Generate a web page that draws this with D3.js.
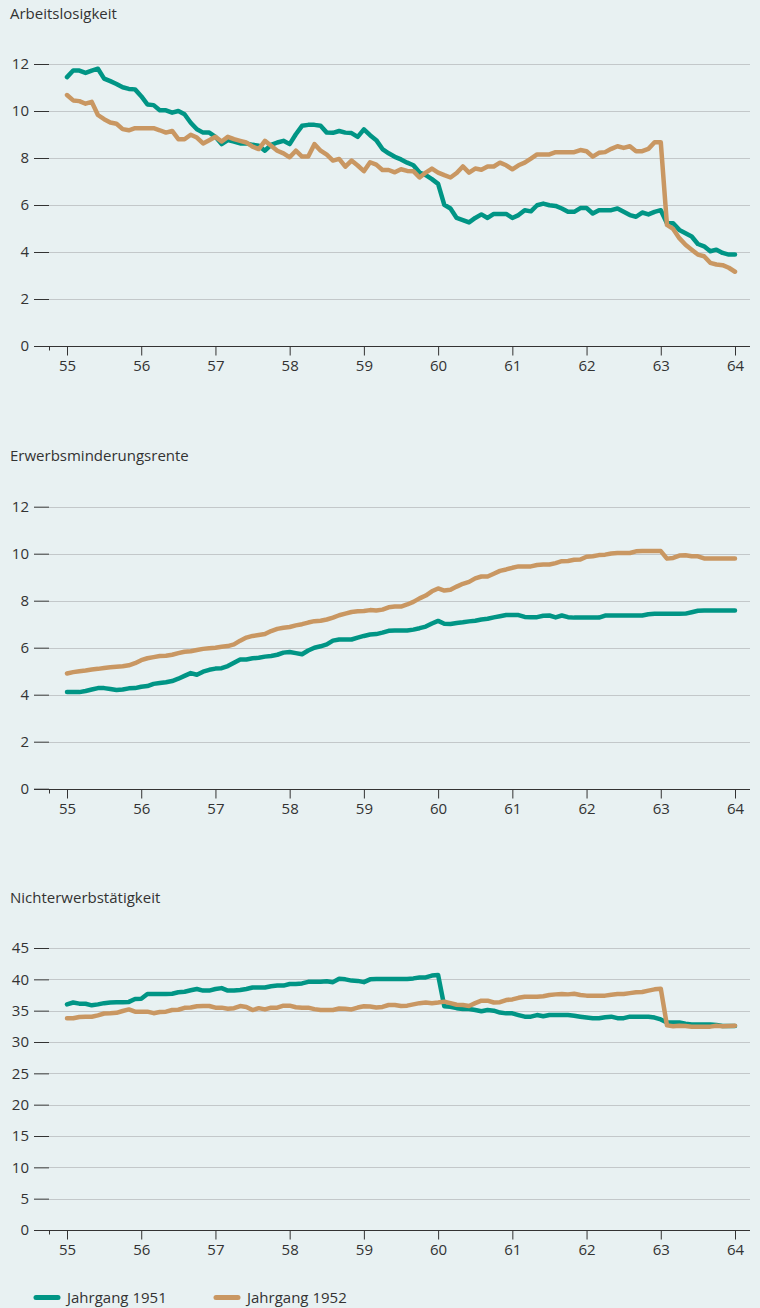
<!DOCTYPE html>
<html>
<head>
<meta charset="utf-8">
<script src="https://cdn.jsdelivr.net/npm/d3@7"></script>
<style>
body { margin: 0; background: #e8f1f2; }
svg text { font-family: "Open Sans", "Noto Sans", sans-serif; fill: #333; }
</style>
</head>
<body>
<svg width="760" height="1308"></svg>
<script>
// Alter in Jahren, monatliche Werte von 55 bis 64
var ageTicks = [55, 56, 57, 58, 59, 60, 61, 62, 63, 64]
var startAge = 55
var seriesNames = ["Jahrgang 1951", "Jahrgang 1952"]
var panelTitles = ["Arbeitslosigkeit", "Erwerbsminderungsrente", "Nichterwerbstätigkeit"]
var yTicksSmall = [0, 2, 4, 6, 8, 10, 12]
var yTicksLarge = [0, 5, 10, 15, 20, 25, 30, 35, 40, 45]

var arbeitslos1951 = [
    11.44, 11.72, 11.72, 11.62, 11.72, 11.8, 11.38, 11.27, 11.15, 11.01, 10.94, 10.92,
    10.63, 10.28, 10.25, 10.03, 10.03, 9.93, 10.0, 9.86, 9.5, 9.22, 9.08, 9.08,
    8.9, 8.59, 8.76, 8.7, 8.62, 8.62, 8.56, 8.52, 8.31, 8.56, 8.66, 8.73,
    8.59, 9.01, 9.37, 9.41, 9.41, 9.37, 9.08, 9.07, 9.15, 9.08, 9.06, 8.9,
    9.22, 8.97, 8.76, 8.38, 8.2, 8.05, 7.94, 7.8, 7.69, 7.38, 7.27, 7.1,
    6.9, 6.01, 5.85, 5.45, 5.36, 5.26, 5.45, 5.6, 5.45, 5.62, 5.62, 5.62,
    5.45, 5.57, 5.78, 5.73, 5.99, 6.06, 5.99, 5.96, 5.85, 5.71, 5.71, 5.87,
    5.87, 5.64, 5.78, 5.78, 5.78, 5.85, 5.71, 5.57, 5.5, 5.68, 5.6, 5.71,
    5.78, 5.22, 5.22, 4.94, 4.8, 4.66, 4.34, 4.24, 4.03, 4.1, 3.96, 3.89,
    3.89]
var arbeitslos1952 = [
    10.68, 10.45, 10.42, 10.31, 10.39, 9.83, 9.65, 9.51, 9.46, 9.23, 9.18, 9.27,
    9.27, 9.27, 9.27, 9.18, 9.08, 9.15, 8.8, 8.8, 8.99, 8.87, 8.62, 8.76,
    8.9, 8.7, 8.9, 8.8, 8.73, 8.66, 8.48, 8.38, 8.73, 8.52, 8.31, 8.2,
    8.03, 8.31, 8.06, 8.06, 8.59, 8.31, 8.14, 7.89, 7.96, 7.63, 7.89, 7.68,
    7.44, 7.82, 7.72, 7.49, 7.49, 7.39, 7.52, 7.45, 7.44, 7.17, 7.38, 7.55,
    7.38, 7.27, 7.17, 7.36, 7.64, 7.38, 7.55, 7.5, 7.64, 7.64, 7.8, 7.69,
    7.52, 7.69, 7.8, 7.97, 8.15, 8.15, 8.15, 8.25, 8.25, 8.25, 8.25, 8.34,
    8.29, 8.06, 8.22, 8.25, 8.39, 8.5, 8.43, 8.5, 8.29, 8.29, 8.39, 8.67,
    8.67, 5.15, 4.98, 4.59, 4.31, 4.1, 3.89, 3.82, 3.54, 3.47, 3.44, 3.33,
    3.16]

var emRente1951 = [
    4.11, 4.11, 4.11, 4.16, 4.22, 4.28, 4.28, 4.24, 4.2, 4.22, 4.27, 4.28,
    4.34, 4.37, 4.46, 4.5, 4.53, 4.58, 4.68, 4.8, 4.92, 4.85, 4.98, 5.06,
    5.11, 5.13, 5.22, 5.36, 5.5, 5.5, 5.55, 5.57, 5.62, 5.65, 5.7, 5.79,
    5.82, 5.77, 5.72, 5.88, 6.0, 6.06, 6.14, 6.3, 6.35, 6.35, 6.35, 6.43,
    6.5, 6.56, 6.58, 6.64, 6.72, 6.73, 6.73, 6.73, 6.77, 6.83, 6.9, 7.03,
    7.14, 7.02, 7.01, 7.05, 7.08, 7.12, 7.15, 7.2, 7.23, 7.29, 7.34, 7.39,
    7.39, 7.39, 7.31, 7.3, 7.3, 7.36, 7.37, 7.29, 7.37, 7.3, 7.28, 7.28,
    7.28, 7.28, 7.28, 7.37, 7.37, 7.37, 7.37, 7.37, 7.37, 7.37, 7.42, 7.44,
    7.44, 7.44, 7.44, 7.44, 7.45, 7.51, 7.57, 7.58, 7.58, 7.58, 7.58, 7.58,
    7.58]
var emRente1952 = [
    4.9, 4.96, 5.0, 5.03, 5.07, 5.1, 5.14, 5.17, 5.19, 5.21, 5.25, 5.34,
    5.47, 5.55, 5.6, 5.65, 5.66, 5.7, 5.77, 5.83, 5.85, 5.9, 5.95, 5.98,
    6.0, 6.04, 6.07, 6.14, 6.3, 6.43, 6.5, 6.54, 6.58, 6.71, 6.8, 6.85,
    6.88, 6.95, 7.0, 7.07, 7.13, 7.15, 7.2, 7.28, 7.38, 7.45, 7.52, 7.55,
    7.56, 7.6, 7.58, 7.62, 7.72, 7.75, 7.75, 7.84, 7.95, 8.1, 8.22, 8.4,
    8.52, 8.43, 8.47, 8.6, 8.72, 8.8, 8.95, 9.03, 9.03, 9.15, 9.27, 9.33,
    9.4, 9.46, 9.46, 9.46, 9.52, 9.54, 9.54, 9.6, 9.68, 9.69, 9.74, 9.75,
    9.87, 9.89, 9.94, 9.96, 10.01, 10.03, 10.03, 10.03, 10.1, 10.11, 10.11, 10.11,
    10.11, 9.79, 9.82, 9.92, 9.93, 9.89, 9.89, 9.8, 9.8, 9.8, 9.8, 9.8,
    9.8]

var nichterw1951 = [
    36.0, 36.3, 36.12, 36.1, 35.85, 36.0, 36.2, 36.32, 36.33, 36.33, 36.4, 36.86,
    36.9, 37.66, 37.66, 37.66, 37.66, 37.7, 37.93, 38.03, 38.25, 38.46, 38.2, 38.2,
    38.45, 38.6, 38.2, 38.2, 38.3, 38.46, 38.7, 38.7, 38.7, 38.9, 39.0, 39.0,
    39.25, 39.26, 39.35, 39.6, 39.6, 39.6, 39.7, 39.55, 40.1, 40.0, 39.8, 39.75,
    39.55, 40.0, 40.05, 40.05, 40.05, 40.05, 40.05, 40.05, 40.15, 40.3, 40.3, 40.6,
    40.7, 35.7, 35.62, 35.4, 35.27, 35.27, 35.1, 34.9, 35.1, 35.0, 34.7, 34.57,
    34.57, 34.3, 34.04, 34.04, 34.3, 34.1, 34.3, 34.3, 34.3, 34.3, 34.2, 34.04,
    33.9, 33.78, 33.78, 33.95, 34.04, 33.8, 33.8, 34.04, 34.04, 34.04, 34.04, 33.9,
    33.6, 33.1, 33.1, 33.1, 32.9, 32.8, 32.8, 32.8, 32.8, 32.7, 32.55, 32.55,
    32.55]
var nichterw1952 = [
    33.78, 33.78, 34.0, 34.04, 34.04, 34.25, 34.55, 34.57, 34.65, 34.95, 35.2, 34.84,
    34.84, 34.84, 34.6, 34.8, 34.84, 35.1, 35.15, 35.45, 35.5, 35.7, 35.74, 35.74,
    35.48, 35.48, 35.3, 35.4, 35.74, 35.6, 35.1, 35.4, 35.2, 35.48, 35.48, 35.8,
    35.8, 35.55, 35.48, 35.48, 35.25, 35.1, 35.1, 35.1, 35.35, 35.3, 35.2, 35.5,
    35.7, 35.65, 35.5, 35.6, 35.9, 35.9, 35.74, 35.8, 36.0, 36.2, 36.3, 36.2,
    36.3, 36.44, 36.2, 35.95, 35.9, 35.75, 36.2, 36.6, 36.6, 36.3, 36.35, 36.7,
    36.8, 37.05, 37.23, 37.23, 37.23, 37.3, 37.5, 37.6, 37.65, 37.6, 37.7, 37.5,
    37.4, 37.4, 37.4, 37.4, 37.55, 37.66, 37.66, 37.8, 37.93, 37.97, 38.2, 38.4,
    38.5, 32.65, 32.5, 32.6, 32.55, 32.45, 32.45, 32.45, 32.45, 32.6, 32.5, 32.55,
    32.6]

var color_1951 = "#009585"
var color_1952 = "#c99762"
var grid_color = "#c3c8ca"
var axis_color = "#333"

var svg = d3.select("svg")
svg.append("rect").attr("width", 760).attr("height", 1308).attr("fill", "#e8f1f2")

var x = d3.scaleLinear().domain([ageTicks[0], ageTicks[ageTicks.length - 1]]).range([67, 735])
var plot_left = 49
var plot_right = 750
var plot_height = 282

function panel(title, top, yTicks, s1951, s1952) {
    var bottom = top + plot_height
    var y = d3.scaleLinear().domain([0, yTicks[yTicks.length - 1]]).range([bottom, top])
    var g = svg.append("g")

    g.append("text")
        .attr("x", 10).attr("y", top - 45.5)
        .attr("font-size", "15px")
        .text(title)

    // gridlines
    g.selectAll(".grid")
        .data(yTicks.filter(function (d) { return d > 0 }))
        .enter().append("line")
        .attr("x1", plot_left).attr("x2", plot_right)
        .attr("y1", function (d) { return Math.round(y(d)) + 0.5 })
        .attr("y2", function (d) { return Math.round(y(d)) + 0.5 })
        .attr("stroke", grid_color).attr("stroke-width", 1.2)

    var yAxis = g.append("g")
        .attr("transform", "translate(" + plot_left + ",0)")
        .call(d3.axisLeft(y).tickValues(yTicks).tickSize(15).tickPadding(5))
    yAxis.select(".domain").remove()
    yAxis.selectAll("line").attr("stroke", axis_color)
    yAxis.selectAll("text").attr("font-size", "15px").attr("fill", "#333")
        .attr("font-family", "'Open Sans', 'Noto Sans', sans-serif")

    var base = Math.round(bottom) + 0.5
    g.append("line")
        .attr("x1", 34).attr("x2", plot_right)
        .attr("y1", base).attr("y2", base)
        .attr("stroke", axis_color).attr("stroke-width", 1)
    g.append("line")
        .attr("x1", plot_left + 0.5).attr("x2", plot_left + 0.5)
        .attr("y1", base).attr("y2", base + 4)
        .attr("stroke", axis_color)

    var xAxis = g.append("g")
        .attr("transform", "translate(0," + base + ")")
        .call(d3.axisBottom(x).tickValues(ageTicks).tickSize(9).tickPadding(5))
    xAxis.select(".domain").remove()
    xAxis.selectAll("line").attr("stroke", axis_color)
    xAxis.selectAll("text").attr("font-size", "15px").attr("fill", "#333")
        .attr("font-family", "'Open Sans', 'Noto Sans', sans-serif")

    var line = d3.line()
        .x(function (d, i) { return x(startAge + i / 12) })
        .y(function (d) { return y(d) })

    ;[[s1951, color_1951], [s1952, color_1952]].forEach(function (s) {
        g.append("path")
            .datum(s[0])
            .attr("d", line)
            .attr("fill", "none")
            .attr("stroke", s[1])
            .attr("stroke-width", 4.5)
            .attr("stroke-linejoin", "round")
            .attr("stroke-linecap", "round")
    })
}

panel(panelTitles[0], 64, yTicksSmall, arbeitslos1951, arbeitslos1952)
panel(panelTitles[1], 506.7, yTicksSmall, emRente1951, emRente1952)
panel(panelTitles[2], 948, yTicksLarge, nichterw1951, nichterw1952)

// legend
var legend = svg.append("g")
var legend_x = [34, 214]
;[color_1951, color_1952].forEach(function (c, k) {
    legend.append("line")
        .attr("x1", legend_x[k] + 2).attr("x2", legend_x[k] + 24)
        .attr("y1", 1297.5).attr("y2", 1297.5)
        .attr("stroke", c).attr("stroke-width", 5)
        .attr("stroke-linecap", "round")
    legend.append("text")
        .attr("x", legend_x[k] + 33).attr("y", 1302.5)
        .attr("font-size", "15px")
        .text(seriesNames[k])
})
</script>
</body>
</html>
